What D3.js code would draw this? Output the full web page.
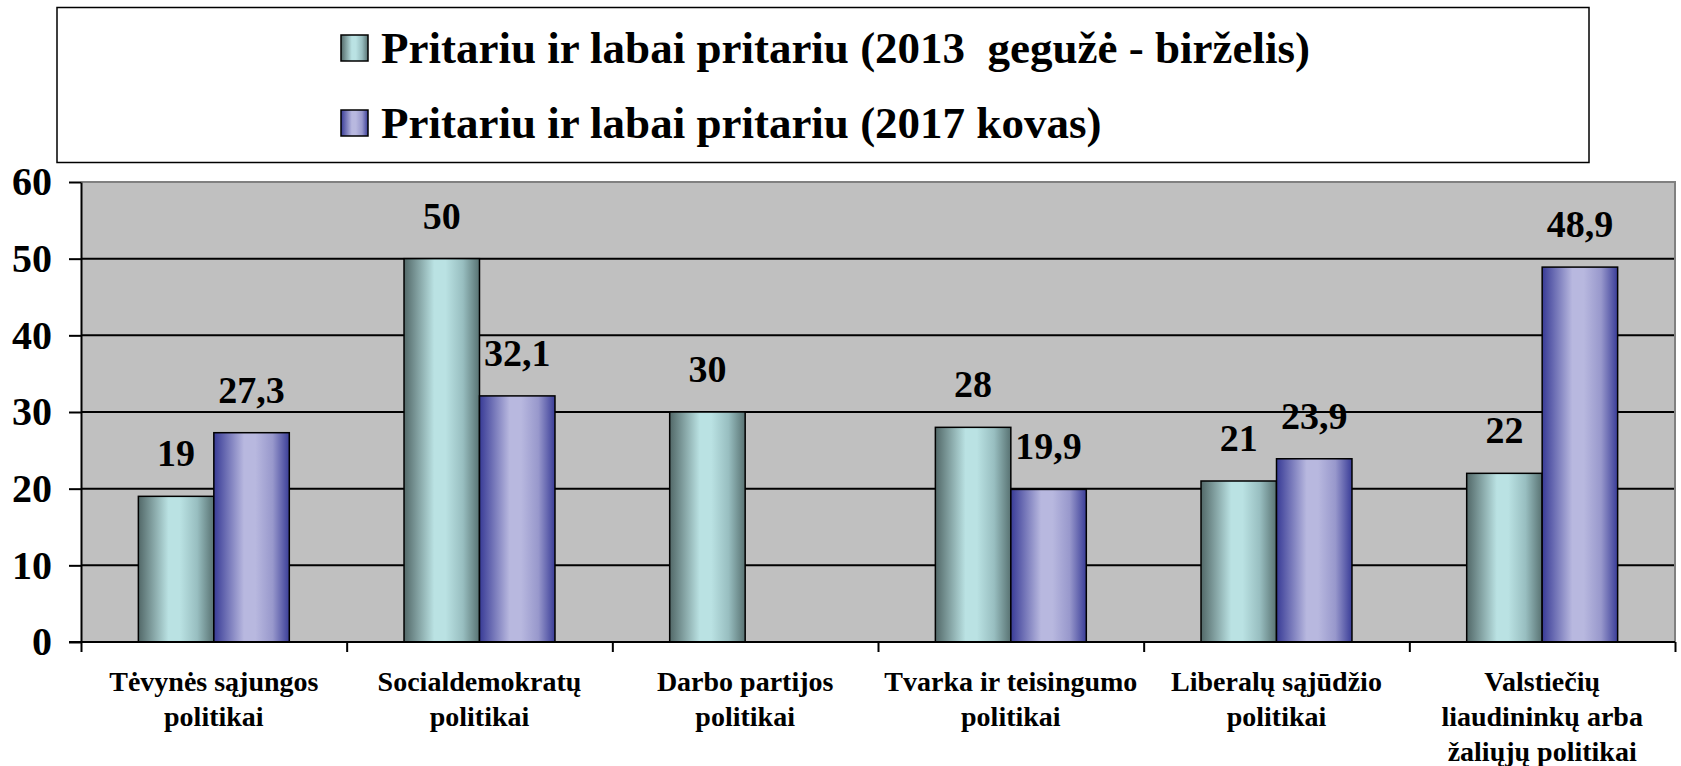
<!DOCTYPE html>
<html>
<head>
<meta charset="utf-8">
<script src="https://cdn.jsdelivr.net/npm/d3@7"></script>
<style>
  body { margin: 0; background: #fff; }
  text { font-family: "Liberation Serif", "Times New Roman", serif; font-weight: bold; fill: #000; }
</style>
</head>
<body>
<div id="chart"></div>
<script>
// data
var categories = [
  "Tėvynės sąjungos|politikai",
  "Socialdemokratų|politikai",
  "Darbo partijos|politikai",
  "Tvarka ir teisingumo|politikai",
  "Liberalų sąjūdžio|politikai",
  "Valstiečių|liaudininkų arba|žaliųjų politikai"
];
var seriesNames = [
  "Pritariu ir labai pritariu (2013  gegužė - birželis)",
  "Pritariu ir labai pritariu (2017 kovas)"
];
var values2013 = [19, 50, 30, 28, 21, 22];
var values2017 = [27.3, 32.1, null, 19.9, 23.9, 48.9];
var yTicks = [0, 10, 20, 30, 40, 50, 60];

var svgWidth = 1681;
var svgHeight = 766;
var margin = {top: 182, right: 6, bottom: 124, left: 81};
var width = svgWidth - margin.left - margin.right;
var height = svgHeight - margin.top - margin.bottom;

var svg = d3.select("#chart")
  .append("svg")
  .attr("width", svgWidth)
  .attr("height", svgHeight);

// gradients for the bars
var defs = svg.append("defs");
function addGradient(id, dark, light, mid, darkRight) {
  var g = defs.append("linearGradient").attr("id", id)
    .attr("x1", "0%").attr("x2", "100%").attr("y1", "0%").attr("y2", "0%");
  g.append("stop").attr("offset", "0%").attr("stop-color", dark);
  g.append("stop").attr("offset", "40%").attr("stop-color", light);
  g.append("stop").attr("offset", "55%").attr("stop-color", light);
  g.append("stop").attr("offset", "78%").attr("stop-color", mid);
  g.append("stop").attr("offset", "100%").attr("stop-color", darkRight);
}
addGradient("grad0", "#526868", "#bae2e3", "#98bec0", "#587272");
addGradient("grad1", "#383b96", "#b8b8df", "#9898cc", "#3a3d98");
var fills = ["url(#grad0)", "url(#grad1)"];

var chart = svg.append("g")
  .attr("transform", `translate(${margin.left}, ${margin.top})`);

var yScale = d3.scaleLinear().domain([0, 60]).range([height, 0]);
var x0 = d3.scaleBand().domain(d3.range(categories.length)).range([0, width]);
var x1 = d3.scaleBand().domain([0, 1]).range([0, x0.bandwidth()]).paddingOuter(0.76);

// plot background
chart.append("rect")
  .attr("width", width).attr("height", height)
  .attr("fill", "#c0c0c0");

// grid lines
chart.selectAll(".grid").data(yTicks.filter(d => d > 0 && d < 60)).enter()
  .append("line")
  .attr("x1", 0).attr("x2", width)
  .attr("y1", d => yScale(d)).attr("y2", d => yScale(d))
  .attr("stroke", "#000").attr("stroke-width", 2);

// grey border top and right
chart.append("path")
  .attr("d", `M0,${yScale(60)}H${width}V${height}`)
  .attr("fill", "none").attr("stroke", "#808080").attr("stroke-width", 2);

// bars
var rows = [values2013, values2017];
rows.forEach(function(vals, s) {
  var items = vals.map((v, i) => ({i: i, v: v})).filter(d => d.v != null);
  chart.selectAll(".bar" + s).data(items).enter()
    .append("rect")
    .attr("x", d => x0(d.i) + x1(s))
    .attr("y", d => yScale(d.v))
    .attr("width", x1.bandwidth())
    .attr("height", d => height - yScale(d.v))
    .attr("fill", fills[s])
    .attr("stroke", "#000")
    .attr("stroke-width", 1.5);

  chart.selectAll(".lbl" + s).data(items).enter()
    .append("text")
    .attr("x", d => x0(d.i) + x1(s) + x1.bandwidth() / 2)
    .attr("y", d => yScale(d.v) - 30)
    .attr("text-anchor", "middle")
    .attr("font-size", 38)
    .text(d => String(d.v).replace(".", ","));
});

// left axis
var leftAxis = d3.axisLeft(yScale).tickValues(yTicks).tickSize(12).tickSizeOuter(0).tickPadding(17);
var gy = chart.append("g").call(leftAxis);
gy.selectAll("text").attr("font-size", 40).attr("font-family", null);
gy.selectAll("line, path").attr("stroke", "#000").attr("stroke-width", 2);

// bottom axis: tick marks between categories
var edges = d3.scaleLinear().domain([0, categories.length]).range([0, width]);
var bottomAxis = d3.axisBottom(edges).tickValues(d3.range(categories.length + 1))
  .tickSize(10).tickSizeOuter(0).tickFormat("");
var gx = chart.append("g").attr("transform", `translate(0, ${height})`).call(bottomAxis);
gx.selectAll("line, path").attr("stroke", "#000").attr("stroke-width", 2);
gx.select(".domain").attr("d", `M-12,0H${width}`);

// category labels
chart.selectAll(".cat").data(categories).enter()
  .append("text")
  .attr("text-anchor", "middle")
  .attr("font-size", 28)
  .attr("transform", (d, i) => `translate(${x0(i) + x0.bandwidth() / 2}, ${height + 49})`)
  .each(function(d) {
    var t = d3.select(this);
    d.split("|").forEach(function(line, k) {
      t.append("tspan").attr("x", 0).attr("y", k * 35).text(line);
    });
  });

// legend
var legend = svg.append("g");
legend.append("rect")
  .attr("x", 57).attr("y", 7.5).attr("width", 1532).attr("height", 155)
  .attr("fill", "#fff").attr("stroke", "#000").attr("stroke-width", 1.5);
seriesNames.forEach(function(name, s) {
  var cy = 48 + s * 75;
  legend.append("rect")
    .attr("x", 341).attr("y", cy - 13).attr("width", 27).attr("height", 26)
    .attr("fill", fills[s]).attr("stroke", "#000").attr("stroke-width", 1.5);
  legend.append("text")
    .attr("x", 381).attr("y", cy + 15)
    .attr("font-size", 45)
    .style("white-space", "pre")
    .text(name);
});
</script>
</body>
</html>
